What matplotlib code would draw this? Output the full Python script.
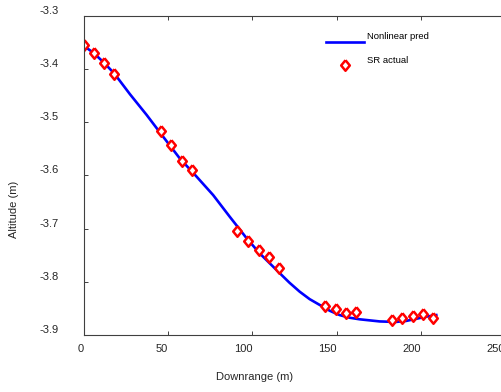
import matplotlib
matplotlib.use("Agg")
import matplotlib.pyplot as plt
from matplotlib.transforms import ScaledTranslation

plt.rcParams["font.family"] = ["Liberation Sans", "DejaVu Sans"]
plt.rcParams["axes.unicode_minus"] = False

# model prediction
pred_x = [0, 6, 12, 18, 27.3, 37.2, 47.0, 56.9, 66.8, 76.7, 86.6, 96.5, 104.4,
          116.2, 122.0, 128.1, 134.0, 140.0, 146.0, 151.8, 157.7, 163.7, 175.6,
          185.0, 191.4, 197.3, 203.3, 209.2]
pred_y = [-3.356, -3.370, -3.388, -3.408, -3.447, -3.486, -3.527, -3.568, -3.602,
          -3.637, -3.678, -3.718, -3.747, -3.784, -3.802, -3.819, -3.833, -3.844,
          -3.855, -3.863, -3.868, -3.871, -3.875, -3.876, -3.874, -3.870, -3.866,
          -3.863]

# measured points
actual_x = [0, 6.1, 12.0, 18.1, 45.6, 51.7, 58.1, 64.2, 91.0, 97.6, 103.7, 109.9,
            115.8, 143.1, 149.4, 155.5, 161.6, 183.0, 188.9, 195.1, 201.2, 207.3]
actual_y = [-3.354, -3.369, -3.388, -3.409, -3.516, -3.543, -3.573, -3.590, -3.705,
            -3.723, -3.741, -3.754, -3.775, -3.846, -3.851, -3.860, -3.858, -3.872,
            -3.869, -3.865, -3.861, -3.868]

x_ticks = [0, 50, 100, 150, 200, 250]
y_ticks = [-3.9, -3.8, -3.7, -3.6, -3.5, -3.4, -3.3]

fig = plt.figure(figsize=(5.02, 3.92), dpi=100)
ax = fig.add_axes([84 / 502, 57.3 / 392, 421 / 502, 318.5 / 392])

diamond = [(0, 1), (0.82, 0), (0, -1), (-0.82, 0), (0, 1)]
ax.plot(pred_x, pred_y, color="#0000ff", lw=1.9, label="Nonlinear pred")
ax.plot(actual_x, actual_y, ls="none", marker=diamond, ms=7.6, mfc="white",
        mec="#ff0000", mew=1.8, label="SR actual")

ax.set_xlim(0, 250)
ax.set_ylim(-3.9, -3.3)
ax.set_xticks(x_ticks)
ax.set_yticks(y_ticks)
ax.set_yticklabels([f"{v:.1f}" for v in y_ticks])
ax.tick_params(direction="in", length=3, width=0.7, colors="#404040",
               labelsize=8, top=True, right=True)
ax.tick_params(axis="x", pad=7)
ax.tick_params(axis="y", pad=18)
plt.setp(ax.get_xticklabels(), ha="right", color="#262626")
plt.setp(ax.get_yticklabels(), va="bottom", color="#262626")
for s in ax.spines.values():
    s.set_color("#404040")
    s.set_linewidth(0.8)

ax.set_xlabel("Downrange (m)", fontsize=8, color="#262626", va="center")
ax.xaxis.set_label_coords(0.405, -0.134)
ax.set_ylabel("Altitude (m)", fontsize=8, color="#262626", va="center")
ax.yaxis.set_label_coords(-0.166, 0.392)

leg = ax.legend(loc="upper left", bbox_to_anchor=(0.575, 0.95), frameon=False,
                fontsize=6.8, handlelength=4.0, handletextpad=0.3,
                labelspacing=1.55, borderpad=0, borderaxespad=0, numpoints=1)
# matlab-style legend: symbols sit a bit below their text
shift = ScaledTranslation(0, -0.06, fig.dpi_scale_trans)
for h in leg.legend_handles:
    h.set_transform(h.get_transform() + shift)

fig.savefig("out.png", dpi=100)
